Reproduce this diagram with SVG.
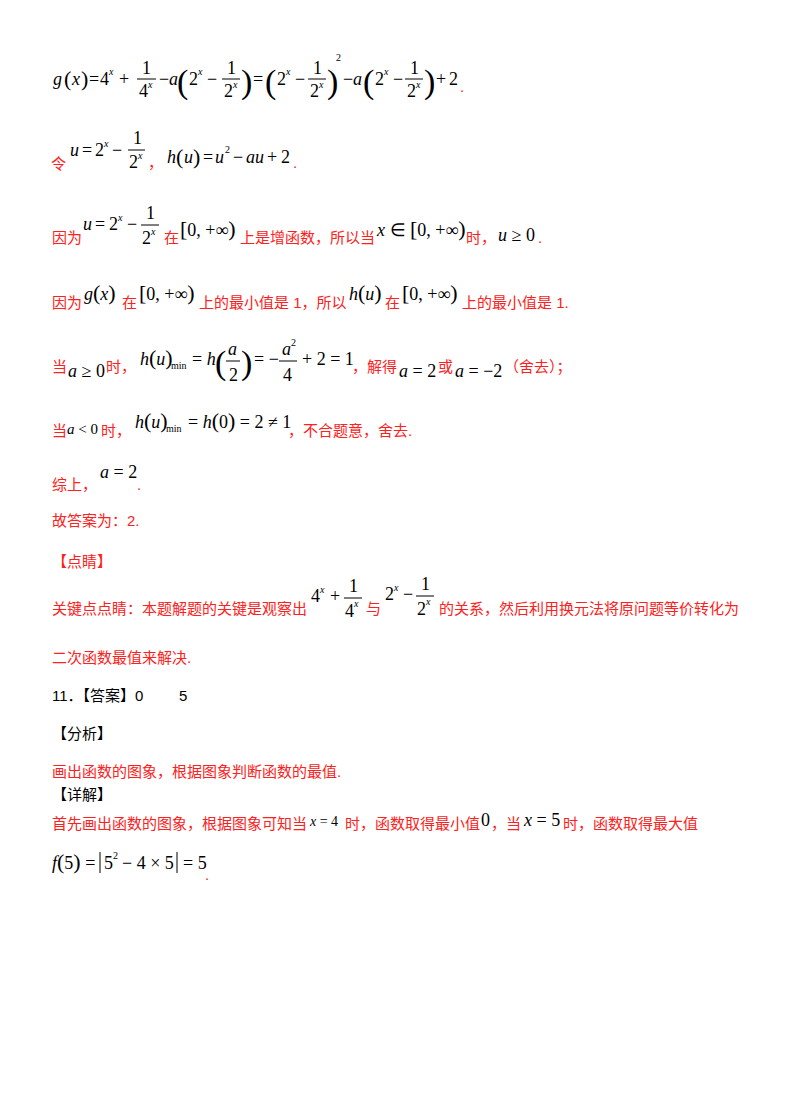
<svg xmlns="http://www.w3.org/2000/svg" width="800" height="1109" viewBox="0 0 800 1109">
<style>
.r{fill:#ff2020;font-family:"Liberation Sans","Noto Sans CJK SC",sans-serif;font-size:15px}
.k{fill:#000;font-family:"Liberation Sans","Noto Sans CJK SC",sans-serif;font-size:15px}
.m{fill:#000;font-family:"Liberation Serif",serif;font-size:18px}
.s{font-size:10px}
.big{font-size:34px;font-family:"Liberation Serif",serif;fill:#000}
.mid{font-size:22px}
.l{stroke:#000;stroke-width:1}
.i{font-style:italic}
</style>
<rect width="800" height="1109" fill="#fff"/>
<g id="line1">
<text class="m i" x="53" y="85">g</text><text class="m mid" x="64" y="86">(</text><text class="m i" x="72" y="85">x</text><text class="m mid" x="81" y="86">)</text>
<text class="m" x="89" y="85">=</text><text class="m" x="100" y="85">4</text><text class="m s i" x="109" y="75">x</text>
<text class="m" x="119" y="85">+</text>
<text class="m" x="142" y="74">1</text><line class="l" x1="137" y1="79" x2="156" y2="79"/><text class="m" x="139" y="97">4</text><text class="m s i" x="148" y="88">x</text>
<text class="m" x="159" y="85">−</text><text class="m i" x="169" y="85">a</text>
<text class="big" x="177" y="93">(</text>
<text class="m" x="189" y="85">2</text><text class="m s i" x="198" y="75">x</text><text class="m" x="207" y="85">−</text>
<text class="m" x="227" y="74">1</text><line class="l" x1="222" y1="79" x2="240" y2="79"/><text class="m" x="224" y="97">2</text><text class="m s i" x="233" y="88">x</text>
<text class="big" x="241" y="93">)</text>
<text class="m" x="253" y="85">=</text>
<text class="big" x="265" y="93">(</text>
<text class="m" x="277" y="85">2</text><text class="m s i" x="286" y="75">x</text><text class="m" x="295" y="85">−</text>
<text class="m" x="313" y="74">1</text><line class="l" x1="308" y1="79" x2="326" y2="79"/><text class="m" x="310" y="97">2</text><text class="m s i" x="319" y="88">x</text>
<text class="big" x="327" y="93">)</text>
<text class="m s" x="336" y="61">2</text>
<text class="m" x="343" y="85">−</text><text class="m i" x="353" y="85">a</text>
<text class="big" x="363" y="93">(</text>
<text class="m" x="375" y="85">2</text><text class="m s i" x="384" y="75">x</text><text class="m" x="393" y="85">−</text>
<text class="m" x="410" y="74">1</text><line class="l" x1="405" y1="79" x2="423" y2="79"/><text class="m" x="407" y="97">2</text><text class="m s i" x="416" y="88">x</text>
<text class="big" x="424" y="93">)</text>
<text class="m" x="436" y="85">+</text><text class="m" x="449" y="85">2</text>
<text class="r" x="460" y="92">.</text>
</g>
<g id="line2">
<text class="r" x="51" y="169">令</text>
<text class="m i" x="70" y="156">u</text><text class="m" x="82" y="156">=</text><text class="m" x="95" y="156">2</text><text class="m s i" x="104" y="147">x</text><text class="m" x="112" y="156">−</text>
<text class="m" x="133" y="144">1</text><line class="l" x1="128" y1="150" x2="145" y2="150"/><text class="m" x="129" y="168">2</text><text class="m s i" x="138" y="159">x</text>
<text class="r" x="148" y="168">，</text>
<text class="m i" x="167" y="163">h</text><text class="m mid" x="176" y="164">(</text><text class="m i" x="184" y="163">u</text><text class="m mid" x="193" y="164">)</text>
<text class="m" x="203" y="163">=</text><text class="m i" x="215" y="163">u</text><text class="m s" x="225" y="153">2</text>
<text class="m" x="233" y="163">−</text><text class="m i" x="246" y="163">au</text><text class="m" x="267" y="163">+</text><text class="m" x="281" y="163">2</text>
<text class="r" x="293" y="168">.</text>
</g>
<g id="line3">
<text class="r" x="52" y="243">因为</text>
<text class="m i" x="83" y="230">u</text><text class="m" x="95" y="230">=</text><text class="m" x="109" y="230">2</text><text class="m s i" x="118" y="221">x</text><text class="m" x="127" y="230">−</text>
<text class="m" x="146" y="219">1</text><line class="l" x1="141" y1="225" x2="159" y2="225"/><text class="m" x="142" y="244">2</text><text class="m s i" x="151" y="235">x</text>
<text class="r" x="164" y="243">在</text>
<text class="m" x="180" y="236"><tspan class="mid">[</tspan>0, +∞<tspan class="mid">)</tspan></text>
<text class="r" x="240" y="243">上是增函数，所以当</text>
<text class="m" x="377" y="236"><tspan class="i">x</tspan> ∈ <tspan class="mid">[</tspan>0, +∞<tspan class="mid">)</tspan></text>
<text class="r" x="466" y="243">时，</text>
<text class="m" x="498" y="241"><tspan class="i">u</tspan> ≥ 0</text>
<text class="r" x="538" y="243">.</text>
</g>
<g id="line4">
<text class="r" x="52" y="308">因为</text>
<text class="m" x="84" y="300"><tspan class="i">g</tspan><tspan class="mid">(</tspan><tspan class="i">x</tspan><tspan class="mid">)</tspan></text>
<text class="r" x="122" y="308">在</text>
<text class="m" x="139" y="300"><tspan class="mid">[</tspan>0, +∞<tspan class="mid">)</tspan></text>
<text class="r" x="199" y="308">上的最小值是 1，所以</text>
<text class="m" x="349" y="300"><tspan class="i">h</tspan><tspan class="mid">(</tspan><tspan class="i">u</tspan><tspan class="mid">)</tspan></text>
<text class="r" x="385" y="308">在</text>
<text class="m" x="402" y="300"><tspan class="mid">[</tspan>0, +∞<tspan class="mid">)</tspan></text>
<text class="r" x="462" y="308">上的最小值是 1.</text>
</g>
<g id="line5">
<text class="r" x="52" y="372">当</text>
<text class="m" x="68" y="377"><tspan class="i">a</tspan> ≥ 0</text>
<text class="r" x="106" y="372">时，</text>
<text class="m" x="140" y="365"><tspan class="i">h</tspan><tspan class="mid">(</tspan><tspan class="i">u</tspan><tspan class="mid">)</tspan></text><text class="m s" x="171" y="369">min</text>
<text class="m" x="192" y="365">= <tspan class="i">h</tspan></text>
<text class="big" x="215" y="374">(</text>
<text class="m i" x="228" y="355">a</text><line class="l" x1="226" y1="361" x2="240" y2="361"/><text class="m" x="229" y="381">2</text>
<text class="big" x="241" y="374">)</text>
<text class="m" x="254" y="365">= −</text>
<text class="m i" x="282" y="355">a</text><text class="m s" x="291" y="346">2</text><line class="l" x1="279" y1="361" x2="297" y2="361"/><text class="m" x="283" y="381">4</text>
<text class="m" x="302" y="365">+ 2 = 1</text>
<text class="r" x="352" y="372">，解得</text>
<text class="m" x="399" y="377"><tspan class="i">a</tspan> = 2</text>
<text class="r" x="438" y="372">或</text>
<text class="m" x="455" y="377"><tspan class="i">a</tspan> = −2</text>
<text class="r" x="504" y="372">（舍去）；</text>
</g>
<g id="line6">
<text class="r" x="52" y="436">当</text>
<text class="m" x="67" y="434" style="font-size:15px"><tspan class="i">a</tspan> &lt; 0</text>
<text class="r" x="101" y="436">时，</text>
<text class="m" x="135" y="428"><tspan class="i">h</tspan><tspan class="mid">(</tspan><tspan class="i">u</tspan><tspan class="mid">)</tspan></text><text class="m s" x="166" y="432">min</text>
<text class="m" x="188" y="428">= <tspan class="i">h</tspan><tspan class="mid">(</tspan>0<tspan class="mid">)</tspan> = 2 ≠ 1</text>
<text class="r" x="288" y="436">，不合题意，舍去.</text>
</g>
<g id="line7">
<text class="r" x="52" y="490">综上，</text>
<text class="m" x="100" y="478"><tspan class="i">a</tspan> = 2</text>
<text class="r" x="137" y="490">.</text>
</g>
<text class="r" x="52" y="526">故答案为：2.</text>
<text class="r" x="52" y="567">【点睛】</text>
<g id="line10">
<text class="r" x="52" y="614">关键点点睛：本题解题的关键是观察出</text>
<text class="m" x="311" y="602">4</text><text class="m s i" x="320" y="593">x</text><text class="m" x="330" y="602">+</text>
<text class="m" x="349" y="592">1</text><line class="l" x1="344" y1="598" x2="362" y2="598"/><text class="m" x="345" y="617">4</text><text class="m s i" x="354" y="607">x</text>
<text class="r" x="366" y="614">与</text>
<text class="m" x="385" y="600">2</text><text class="m s i" x="394" y="591">x</text><text class="m" x="403" y="600">−</text>
<text class="m" x="421" y="590">1</text><line class="l" x1="416" y1="596" x2="434" y2="596"/><text class="m" x="417" y="615">2</text><text class="m s i" x="426" y="605">x</text>
<text class="r" x="439" y="614">的关系，然后利用换元法将原问题等价转化为</text>
</g>
<text class="r" x="52" y="663">二次函数最值来解决.</text>
<text class="k" x="52" y="701">11．【答案】0</text>
<text class="k" x="179" y="701">5</text>
<text class="k" x="52" y="739">【分析】</text>
<text class="r" x="52" y="777">画出函数的图象，根据图象判断函数的最值.</text>
<text class="k" x="52" y="800">【详解】</text>
<g id="line16">
<text class="r" x="52" y="829">首先画出函数的图象，根据图象可知当</text>
<text class="m" x="310" y="826" style="font-size:14px"><tspan class="i">x</tspan> = 4</text>
<text class="r" x="345" y="829">时，函数取得最小值</text>
<text class="m" x="481" y="826">0</text>
<text class="r" x="491" y="829">，当</text>
<text class="m" x="524" y="826"><tspan class="i">x</tspan> = 5</text>
<text class="r" x="563" y="829">时，函数取得最大值</text>
</g>
<g id="line17">
<text class="m" x="52" y="869"><tspan class="i">f</tspan><tspan class="mid">(</tspan>5<tspan class="mid">)</tspan> = </text>
<line class="l" x1="100" y1="852" x2="100" y2="873"/>
<text class="m" x="104" y="869">5</text><text class="m s" x="113" y="859">2</text>
<text class="m" x="122" y="869">− 4 × 5</text>
<line class="l" x1="177" y1="852" x2="177" y2="873"/>
<text class="m" x="183" y="869">= 5</text>
<text class="r" x="205" y="880">.</text>
</g>
</svg>
